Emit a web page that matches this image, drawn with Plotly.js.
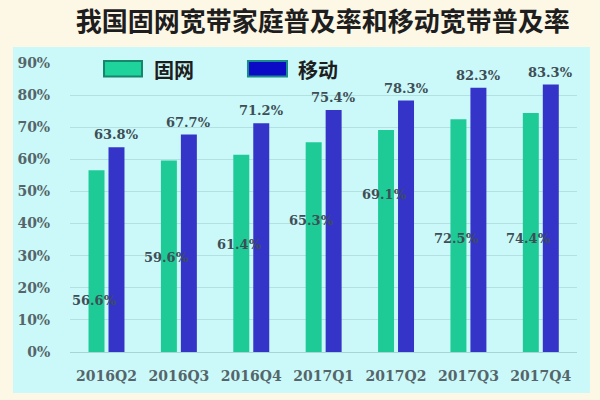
<!DOCTYPE html>
<html>
<head>
<meta charset="utf-8">
<script src="https://cdn.plot.ly/plotly-3.0.1.min.js"></script>
<style>
  body { margin: 0; background: #fdf8e6; }
  #chart { width: 600px; height: 400px; }
</style>
</head>
<body>
<div id="chart"></div>
<script>
const quarters = ['2016Q2', '2016Q3', '2016Q4', '2017Q1', '2017Q2', '2017Q3', '2017Q4'];
const fixedRate = [56.6, 59.6, 61.4, 65.3, 69.1, 72.5, 74.4];
const mobileRate = [63.8, 67.7, 71.2, 75.4, 78.3, 82.3, 83.3];
const yTicks = [0, 10, 20, 30, 40, 50, 60, 70, 80, 90];

// where the green labels sit in the original (not tied to bar height)
const fixedLabelY = [16, 29.5, 33.5, 41, 49, 35.5, 35.5];

const green = '#1ecb97';
const blue = '#3434c8';
const labelFont = {family: 'DejaVu Serif', size: 13, color: '#3e4e56', weight: 'bold'};

const data = [
  {type: 'bar', name: '固网', x: quarters, y: fixedRate, marker: {color: green}, hoverinfo: 'x+y'},
  {type: 'bar', name: '移动', x: quarters, y: mobileRate, marker: {color: blue}, hoverinfo: 'x+y'}
];

let notes = [];
quarters.forEach((q, i) => {
  notes.push({x: q, y: mobileRate[i], xref: 'x', yref: 'y', text: mobileRate[i].toFixed(1) + '%',
    showarrow: false, xshift: 10, yshift: 3, yanchor: 'bottom', font: labelFont});
  notes.push({x: q, y: fixedLabelY[i], xref: 'x', yref: 'y', text: fixedRate[i].toFixed(1) + '%',
    showarrow: false, xshift: -12, yanchor: 'middle', font: labelFont});
});
// legend drawn by hand, the swatches are big in the original
notes.push({x: 0.1617, y: 0.979, xref: 'paper', yref: 'paper', xanchor: 'left', yanchor: 'middle',
  text: '固网', showarrow: false, font: {family: 'Noto Sans CJK SC', size: 20, color: '#1e1e1e', weight: 'bold'}});
notes.push({x: 0.4458, y: 0.979, xref: 'paper', yref: 'paper', xanchor: 'left', yanchor: 'middle',
  text: '移动', showarrow: false, font: {family: 'Noto Sans CJK SC', size: 20, color: '#1e1e1e', weight: 'bold'}});

const layout = {
  width: 600, height: 400,
  margin: {l: 70, r: 23, t: 63, b: 48},
  paper_bgcolor: '#fdf8e6',
  plot_bgcolor: 'rgba(0,0,0,0)',
  showlegend: false,
  barmode: 'group',
  bargap: 0.448,
  bargroupgap: 0.2,
  title: {
    text: '我国固网宽带家庭普及率和移动宽带普及率',
    x: 0.538, xanchor: 'center', y: 0.945, yanchor: 'middle', yref: 'container',
    font: {family: 'Noto Sans CJK SC', size: 26, color: '#1e1e1e', weight: 'bold'}
  },
  xaxis: {
    type: 'category',
    showgrid: false, zeroline: false, showline: false,
    ticks: 'outside', ticklen: 11, tickcolor: 'rgba(0,0,0,0)',
    tickfont: {family: 'DejaVu Serif', size: 14, color: '#55656a', weight: 'bold'}
  },
  yaxis: {
    range: [0, 90],
    tickvals: yTicks,
    ticktext: yTicks.map(v => v + '%'),
    showgrid: true, gridcolor: '#b3e0e0', gridwidth: 1,
    zeroline: true, zerolinecolor: '#a9d4d6', zerolinewidth: 1,
    showline: false,
    ticks: 'outside', ticklen: 16, tickcolor: 'rgba(0,0,0,0)',
    tickfont: {family: 'DejaVu Serif', size: 14, color: '#55656a', weight: 'bold'}
  },
  shapes: [
    {type: 'rect', xref: 'paper', yref: 'paper', x0: -0.1124, x1: 1.0256, y0: -0.1419, y1: 1.0554,
      fillcolor: '#cbf9f9', line: {width: 0}, layer: 'below'},
    {type: 'rect', xref: 'paper', yref: 'paper', x0: 0.0671, x1: 0.142, y0: 0.953, y1: 1.007,
      fillcolor: '#1fd39c', line: {color: '#17866a', width: 2}},
    {type: 'rect', xref: 'paper', yref: 'paper', x0: 0.351, x1: 0.428, y0: 0.953, y1: 1.007,
      fillcolor: '#0b0bc6', line: {color: '#1a8c8c', width: 2}}
  ],
  annotations: notes
};

Plotly.newPlot('chart', data, layout, {displayModeBar: false});
</script>
</body>
</html>
